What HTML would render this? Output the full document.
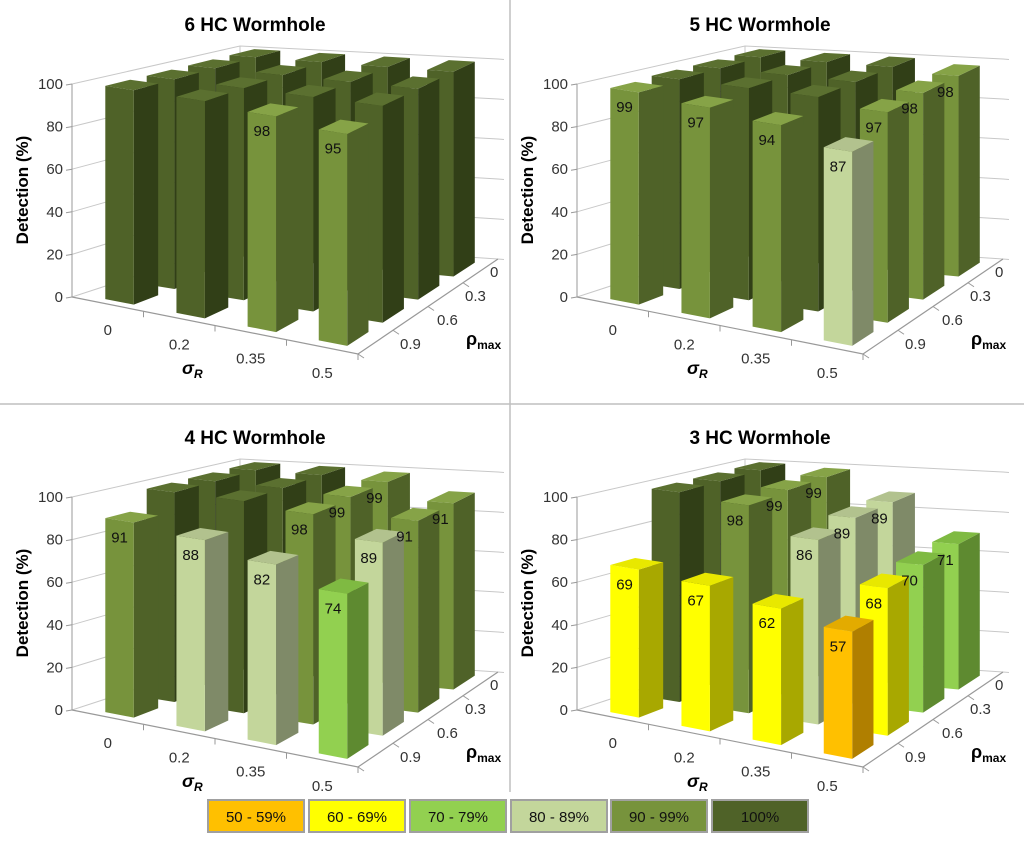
<!DOCTYPE html>
<html><head><meta charset="utf-8"><style>
html,body{margin:0;padding:0;background:#fff;}
svg{display:block;font-family:"Liberation Sans",sans-serif;}
</style></head><body>
<svg id="chart" width="1024" height="844" viewBox="0 0 1024 844" xmlns="http://www.w3.org/2000/svg">
<line x1="510" y1="0" x2="510" y2="792" stroke="#bfbfbf" stroke-width="1.5"/>
<line x1="0" y1="404" x2="1024" y2="404" stroke="#bfbfbf" stroke-width="1.5"/>
<g id="legend"></g>
</svg>
<script>
const sigmaLabels = ["0","0.2","0.35","0.5"];
const rhoLabels = ["0.9","0.6","0.3","0"];
const yTicks = [0,20,40,60,80,100];
const titles = ["6 HC Wormhole","5 HC Wormhole","4 HC Wormhole","3 HC Wormhole"];
// rows: rho 0.9, 0.6, 0.3, 0 ; columns: sigma 0, 0.2, 0.35, 0.5
const values6 = [[100,100,98,95],[100,100,100,100],[100,100,100,100],[100,100,100,100]];
const values5 = [[99,97,94,87],[100,100,100,97],[100,100,100,98],[100,100,100,98]];
const values4 = [[91,88,82,74],[100,100,98,89],[100,100,99,91],[100,100,99,91]];
const values3 = [[69,67,62,57],[100,98,86,68],[100,99,89,70],[100,99,89,71]];
const legendLabels = ["50 - 59%","60 - 69%","70 - 79%","80 - 89%","90 - 99%","100%"];

const NS="http://www.w3.org/2000/svg";
const svg=document.getElementById('chart');
const palette=[
 {f:"#ffc000",s:"#b07f00",t:"#e3ab00"},
 {f:"#ffff00",s:"#a8a800",t:"#e8e800"},
 {f:"#92d050",s:"#5e8a30",t:"#7fba42"},
 {f:"#c3d69b",s:"#7f8a68",t:"#b2c28e"},
 {f:"#77933c",s:"#4f6228",t:"#86a347"},
 {f:"#4f6228",s:"#313f17",t:"#5b7030"}];
function cat(v){if(v>=100)return 5;if(v>=90)return 4;if(v>=80)return 3;if(v>=70)return 2;if(v>=60)return 1;return 0;}
function mk(tag,attrs,parent){const e=document.createElementNS(NS,tag);for(const k in attrs)e.setAttribute(k,attrs[k]);(parent||svg).appendChild(e);return e;}

const panels=[{dx:0,dy:0,vals:values6},{dx:505,dy:0,vals:values5},{dx:0,dy:413,vals:values4},{dx:505,dy:413,vals:values3}];
const FL=[72,297],FR=[358,354],BL=[240,242],BR=[498,259];
const HFL=213,HFR=225,HBL=196,HBR=200;

panels.forEach((p,pi)=>{
 const g=mk('g',{});
 
 
 function floor(u,v){const s=u/4,t=v/4;
  const a=(1-s)*(1-t),b=s*(1-t),c=(1-s)*t,d=s*t;
  return [p.dx+FL[0]*a+FR[0]*b+BL[0]*c+BR[0]*d, p.dy+FL[1]*a+FR[1]*b+BL[1]*c+BR[1]*d, HFL*a+HFR*b+HBL*c+HBR*d];}
 function P(u,v,h){const f=floor(u,v);return [f[0],f[1]-h/100*f[2]];}
 const tt=mk('text',{x:p.dx+255,y:p.dy+31,'text-anchor':'middle','font-size':'19','font-weight':'bold',fill:'#000'},g);
 tt.textContent=titles[pi];
 
 
 yTicks.forEach(h=>{
  const a=P(0,0,h),b=P(0,4,h),c=P(4,4,h);
  const gl=mk('polyline',{points:`${a[0]},${a[1]} ${b[0]},${b[1]} ${c[0]},${c[1]} ${c[0]+6},${c[1]+0.5}`,fill:'none',stroke:'#c8c8c8','stroke-width':'1'},g);
  
  
  mk('line',{x1:a[0]-6,y1:a[1]+1,x2:a[0],y2:a[1],stroke:'#999'},g);
  const lb=mk('text',{x:a[0]-9,y:a[1]+5,'text-anchor':'end','font-size':'15',fill:'#333'},g);
  lb.textContent=h;
  
  
 });
 const a0=P(0,0,0),a1=P(0,0,100),b0=P(0,4,0),b1=P(0,4,100);
 mk('line',{x1:a0[0],y1:a0[1],x2:a1[0],y2:a1[1],stroke:'#999'},g);
 mk('line',{x1:b0[0],y1:b0[1],x2:b1[0],y2:b1[1],stroke:'#c8c8c8'},g);
 const f0=P(0,0,0),f1=P(4,0,0),f2=P(4,4,0);
 const ax=mk('polyline',{points:`${f0[0]},${f0[1]} ${f1[0]},${f1[1]} ${f2[0]},${f2[1]}`,fill:'none',stroke:'#999','stroke-width':'1.2'},g);
 
 
 for(let i=1;i<=4;i++){const q=P(i,0,0);mk('line',{x1:q[0],y1:q[1],x2:q[0],y2:q[1]+6,stroke:'#999'},g);}
 for(let i=0;i<4;i++){const q=P(4,i,0);mk('line',{x1:q[0],y1:q[1],x2:q[0]+6,y2:q[1]+4,stroke:'#999'},g);}
 const labelLayer=[];
 for(let r=3;r>=0;r--){for(let c=0;c<4;c++){
  const v=p.vals[r][c];const col=palette[cat(v)];
  const u0=c+0.35,u1=c+0.75,v0=r+0.2,v1=r+0.8;
  const pts=a=>a.map(q=>q.join(',')).join(' ');
  const bg=mk('g',{},g);
  
  
  mk('polygon',{points:pts([P(u1,v0,0),P(u1,v1,0),P(u1,v1,v),P(u1,v0,v)]),fill:col.s},bg);
  mk('polygon',{points:pts([P(u0,v0,v),P(u1,v0,v),P(u1,v1,v),P(u0,v1,v)]),fill:col.t},bg);
  mk('polygon',{points:pts([P(u0,v0,0),P(u1,v0,0),P(u1,v0,v),P(u0,v0,v)]),fill:col.f},bg);
  if(v<100){labelLayer.push([P((u0+u1)/2,v0,v),v]);}
 }}
 labelLayer.forEach(([q,v])=>{
   const t=mk('text',{x:q[0],y:q[1]+22,'text-anchor':'middle','font-size':'15',fill:'#111'},g);
   t.textContent=v;
   
   });
 sigmaLabels.forEach((s,i)=>{const q=P(i+0.5,0,0);
  const t=mk('text',{x:q[0],y:q[1]+31,'text-anchor':'middle','font-size':'15',fill:'#333'},g);
  t.textContent=s;
  
  });
 const rhoPos=[[400,349],[437,325],[465,301],[490,277]];
 rhoLabels.forEach((s,i)=>{
  const t=mk('text',{x:p.dx+rhoPos[i][0],y:p.dy+rhoPos[i][1],'font-size':'15',fill:'#333'},g);
  t.textContent=s;
  
  });
 const sr=mk('text',{x:p.dx+182,y:p.dy+374,'font-size':'18','font-weight':'bold','font-style':'italic',fill:'#000'},g);
 sr.innerHTML='σ<tspan font-size="12" dy="4">R</tspan>';
 
 
 const rm=mk('text',{x:p.dx+466,y:p.dy+345,'font-size':'18','font-weight':'bold',fill:'#000'},g);
 rm.innerHTML='ρ<tspan font-size="12" dy="4">max</tspan>';
 
 
 const yt=mk('text',{x:0,y:0,'text-anchor':'middle','font-size':'17','font-weight':'bold',fill:'#000',transform:`translate(${p.dx+28},${p.dy+190}) rotate(-90)`},g);
 yt.textContent='Detection (%)';
 
 
});

const lg=document.getElementById('legend');
const lx=[208,309,410,511,611,712];
legendLabels.forEach((s,i)=>{
 const e=mk('g',{},lg);
 
 
 mk('rect',{x:lx[i],y:800,width:96,height:32,fill:palette[i].f,stroke:'#a0a0a0','stroke-width':'2'},e);
 const t=mk('text',{x:lx[i]+48,y:822,'text-anchor':'middle','font-size':'15',fill:'#111'},e);
 t.textContent=s;
});
</script>
</body></html>
